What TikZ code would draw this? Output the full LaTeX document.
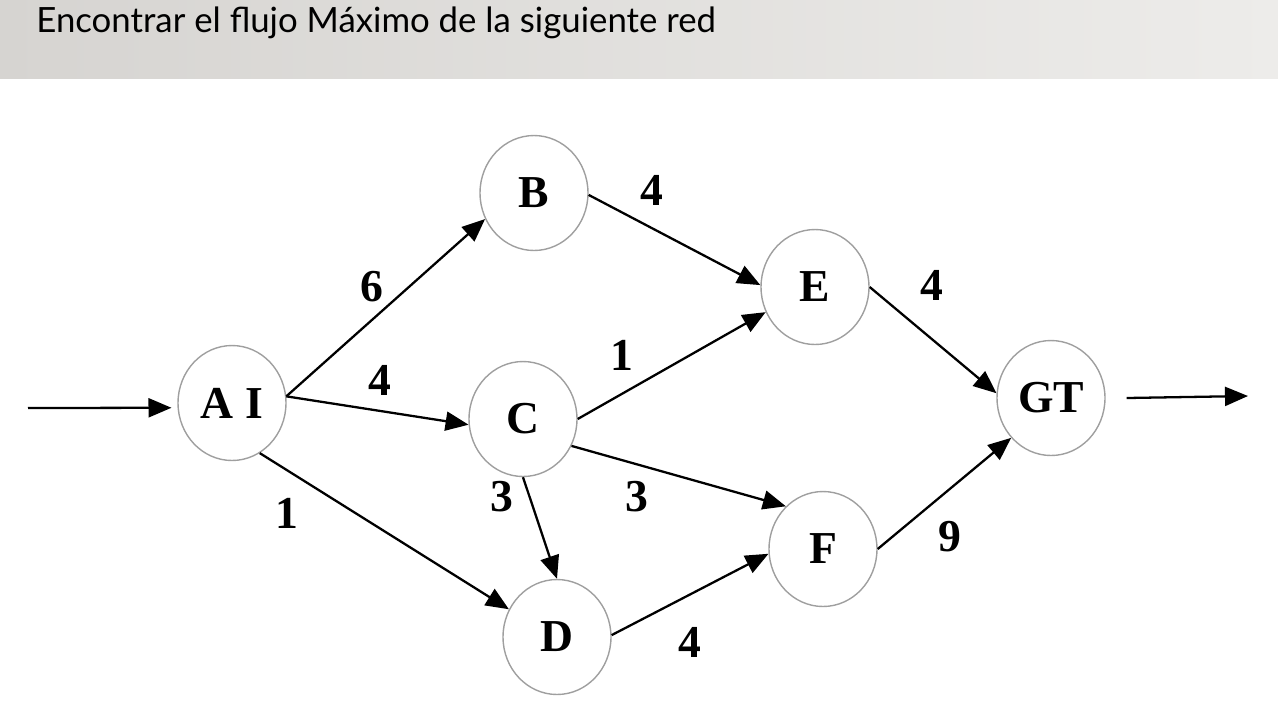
\documentclass[tikz,border=0pt]{standalone}
\usepackage{fontspec}
\setmainfont{Liberation Serif}
\newfontfamily\titlefont{Lato}
\usepackage{xcolor}
\definecolor{barleft}{RGB}{214,212,209}
\definecolor{barright}{RGB}{237,236,234}
\usepackage{tikz}
\usetikzlibrary{arrows.meta,shapes.geometric}

\begin{document}
\begin{tikzpicture}[x=0.02cm,y=-0.02cm,
    vertex/.style={ellipse,draw=gray!75,line width=0.8pt,minimum width=2.16cm,minimum height=2.3cm,
        inner sep=0pt,font=\fontsize{26}{26}\selectfont\bfseries},
    flow/.style={-{Triangle[length=0.46cm,width=0.38cm]},line width=1.3pt},
    wlabel/.style={font=\fontsize{26}{26}\selectfont\bfseries}]
\useasboundingbox (0,0) rectangle (1278,721);
\shade[left color=barleft,right color=barright] (0,0) rectangle (1278,78);
\node[anchor=base west,inner sep=0pt,font=\titlefont\fontsize{19.8}{22}\selectfont] (title) at (36,32) {Encontrar el flujo Máximo de la siguiente red};

\node[vertex] (AI) at (232,403) {A I};
\node[vertex] (B) at (534,193) {B};
\node[vertex] (C) at (523,419) {C};
\node[vertex] (D) at (557,637) {D};
\node[vertex] (E) at (815,287) {E};
\node[vertex] (F) at (823,549) {F};
\node[vertex] (GT) at (1051,398) {GT};
\coordinate (src) at (28,408);
\coordinate (sink) at (1248,396);

\draw[flow] (src) -- ([xshift=-0.12cm]AI.185);
\draw[flow] (AI.7) -- (B.208);
\draw[flow] (AI.7) -- (C.186);
\draw[flow] (AI.-61) -- (D.150);
\draw[flow] (B.-2) -- (E.178);
\draw[flow] (C.0) -- (E.207);
\draw[flow] (C.-29) -- (F.131);
\draw[flow] (C.-90) -- (D.90);
\draw[flow] (D.2) -- (F.185);
\draw[flow] (E.0) -- (GT.175);
\draw[flow] (F.0) -- (GT.225);
\draw[flow] ([xshift=0.42cm]GT.east) -- (sink);

\node[wlabel] (wAB) at (372,287) {6};
\node[wlabel] (wAC) at (380,380) {4};
\node[wlabel] (wAD) at (287,513) {1};
\node[wlabel] (wBE) at (652,190) {4};
\node[wlabel] (wCE) at (622,355) {1};
\node[wlabel] (wCD) at (502,497) {3};
\node[wlabel] (wCF) at (637,497) {3};
\node[wlabel] (wDF) at (690,642) {4};
\node[wlabel] (wEG) at (932,285) {4};
\node[wlabel] (wFG) at (950,537) {9};
\end{tikzpicture}
\end{document}
